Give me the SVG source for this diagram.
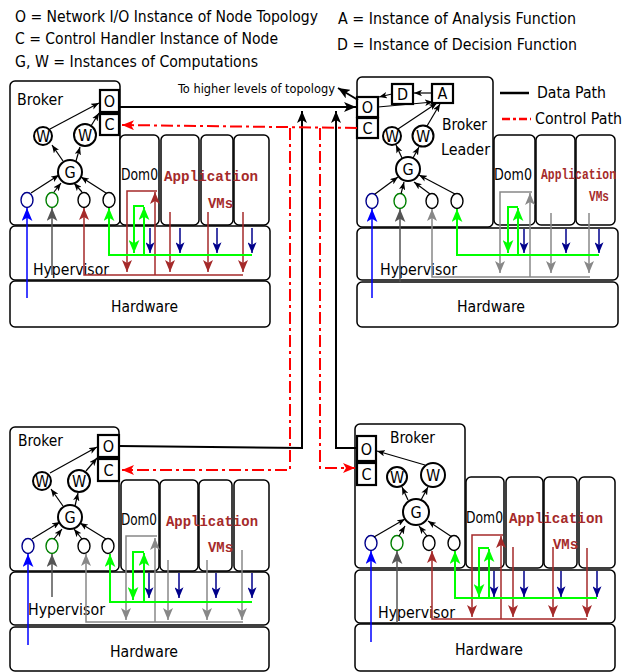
<svg xmlns="http://www.w3.org/2000/svg" width="639" height="672" viewBox="0 0 639 672">
<style>
.box{fill:#fff;stroke:#000;stroke-width:1.5}
.io{fill:#fff;stroke:#000;stroke-width:2.2}
.cir{fill:#fff;stroke:#000;stroke-width:2}
.sc{fill:#fff;stroke-width:1.4}
.lbl{font-family:"DejaVu Sans Condensed","DejaVu Sans",sans-serif;font-stretch:condensed;font-size:16px;fill:#000}
.sm{font-size:13px}
.mid{text-anchor:middle}
.app{font-family:"Liberation Mono","Courier New",monospace;font-weight:bold;font-size:14px;fill:#a52a2a}
.ka{stroke:#000;stroke-width:1.2;fill:none;marker-end:url(#mk)}
.blue{stroke:#0000ff;stroke-width:1.5;fill:none;marker-end:url(#mb)}
.navy{stroke:#00008b;stroke-width:1.5;fill:none;marker-end:url(#mn)}
.lime{stroke:#00ff00;stroke-width:2;fill:none;marker-end:url(#ml)}
.brn{stroke:#a52a2a;stroke-width:1.5;fill:none;marker-end:url(#mr)}
.gry{stroke:#888;stroke-width:1.5;fill:none;marker-end:url(#mg)}
.dgr{stroke:#555;stroke-width:1.5;fill:none;marker-end:url(#md)}
.data{stroke:#000;stroke-width:2;fill:none;marker-end:url(#mkb)}
.ctl{stroke:#f00;stroke-width:2;fill:none;stroke-dasharray:12,4,3,4;marker-end:url(#mred)}
.nm{fill:none}
</style>
<defs>
<marker id="mk" viewBox="0 0 10 8" refX="10" refY="4" markerWidth="8" markerHeight="6.4" markerUnits="userSpaceOnUse" orient="auto"><path d="M0,0 L10,4 L0,8 L2.5,4 z" fill="#000"/></marker>
<marker id="mkb" viewBox="0 0 12 10" refX="12" refY="5" markerWidth="12" markerHeight="10" markerUnits="userSpaceOnUse" orient="auto"><path d="M0,0 L12,5 L0,10 L3,5 z" fill="#000"/></marker>
<marker id="mred" viewBox="0 0 12 10" refX="12" refY="5" markerWidth="12" markerHeight="10" markerUnits="userSpaceOnUse" orient="auto"><path d="M0,0 L12,5 L0,10 L3,5 z" fill="#f00"/></marker>
<marker id="mb" viewBox="0 0 12 10" refX="12" refY="5" markerWidth="13" markerHeight="11" markerUnits="userSpaceOnUse" orient="auto"><path d="M0,0 L12,5 L0,10 L3,5 z" fill="#0000ff"/></marker>
<marker id="ml" viewBox="0 0 12 10" refX="12" refY="5" markerWidth="13" markerHeight="11" markerUnits="userSpaceOnUse" orient="auto"><path d="M0,0 L12,5 L0,10 L3,5 z" fill="#00ff00"/></marker>
<marker id="mr" viewBox="0 0 12 10" refX="12" refY="5" markerWidth="12" markerHeight="10" markerUnits="userSpaceOnUse" orient="auto"><path d="M0,0 L12,5 L0,10 L3,5 z" fill="#a52a2a"/></marker>
<marker id="mg" viewBox="0 0 12 10" refX="12" refY="5" markerWidth="12" markerHeight="10" markerUnits="userSpaceOnUse" orient="auto"><path d="M0,0 L12,5 L0,10 L3,5 z" fill="#888"/></marker>
<marker id="md" viewBox="0 0 12 10" refX="12" refY="5" markerWidth="13" markerHeight="11" markerUnits="userSpaceOnUse" orient="auto"><path d="M0,0 L12,5 L0,10 L3,5 z" fill="#555"/></marker>
<marker id="mn" viewBox="0 0 12 10" refX="12" refY="5" markerWidth="11" markerHeight="9" markerUnits="userSpaceOnUse" orient="auto"><path d="M0,0 L12,5 L0,10 L3,5 z" fill="#00008b"/></marker>
</defs>
<rect width="639" height="672" fill="#fff"/>

<g id="legend">
<text class="lbl" x="15" y="22" textLength="303" lengthAdjust="spacingAndGlyphs">O = Network I/O Instance of Node Topology</text>
<text class="lbl" x="15" y="44" textLength="263" lengthAdjust="spacingAndGlyphs">C = Control Handler Instance of Node</text>
<text class="lbl" x="15" y="67" textLength="243" lengthAdjust="spacingAndGlyphs">G, W = Instances of Computations</text>
<text class="lbl" x="338" y="24" textLength="238" lengthAdjust="spacingAndGlyphs">A = Instance of Analysis Function</text>
<text class="lbl" x="337" y="50" textLength="240" lengthAdjust="spacingAndGlyphs">D = Instance of Decision Function</text>
<line x1="500" y1="93" x2="529" y2="93" stroke="#000" stroke-width="2.5"/>
<text class="lbl" x="537" y="98" textLength="69" lengthAdjust="spacingAndGlyphs">Data Path</text>
<line x1="502" y1="119" x2="531" y2="119" stroke="#f00" stroke-width="2.5" stroke-dasharray="8,3,3,3"/>
<text class="lbl" x="535" y="124" textLength="87" lengthAdjust="spacingAndGlyphs">Control Path</text>
<text class="lbl sm" x="178" y="93" textLength="157" lengthAdjust="spacingAndGlyphs">To higher levels of topology</text>
</g>

<!-- Top-left broker -->
<g id="node-tl">
<rect class="box" x="10" y="226" width="260" height="54" rx="5"/>
<rect class="box" x="10" y="281" width="260" height="46" rx="5"/>
<rect class="box" x="10" y="81" width="110" height="144" rx="5"/>
<rect class="box" x="120" y="135" width="39" height="90" rx="5"/>
<rect class="box" x="161" y="135" width="38" height="90" rx="5"/>
<rect class="box" x="201" y="135" width="32" height="90" rx="5"/>
<rect class="box" x="234" y="135" width="35" height="90" rx="5"/>
<text class="lbl" x="17" y="105" textLength="46" lengthAdjust="spacingAndGlyphs">Broker</text>
<rect class="io" x="100" y="90" width="19" height="22"/>
<rect class="io" x="100" y="114" width="19" height="21"/>
<text class="lbl mid" x="109.5" y="107">O</text>
<text class="lbl mid" x="109.5" y="130">C</text>
<circle class="cir" cx="43" cy="136" r="9"/>
<circle class="cir" cx="85" cy="135" r="11"/>
<circle class="cir" cx="70" cy="172" r="12"/>
<text class="lbl mid" x="43" y="141.5" font-size="14">W</text>
<text class="lbl mid" x="85" y="140.5" font-size="15">W</text>
<text class="lbl mid" x="70" y="178" font-size="16">G</text>
<ellipse class="sc" cx="27" cy="200" rx="6" ry="7.5" stroke="#00008b"/>
<ellipse class="sc" cx="52" cy="200" rx="6" ry="7.5" stroke="#008000"/>
<ellipse class="sc" cx="84" cy="200" rx="6" ry="7.5" stroke="#000"/>
<ellipse class="sc" cx="109" cy="200" rx="6" ry="7.5" stroke="#000"/>
<text class="lbl" x="121" y="180" textLength="37" lengthAdjust="spacingAndGlyphs">Dom0</text>
<text class="app" x="164" y="181" textLength="94" lengthAdjust="spacingAndGlyphs">Application</text>
<text class="app" x="208" y="208" textLength="25" lengthAdjust="spacingAndGlyphs">VMs</text>
<text class="lbl" x="33" y="275" textLength="76" lengthAdjust="spacingAndGlyphs">Hypervisor</text>
<text class="lbl" x="111" y="312" textLength="67" lengthAdjust="spacingAndGlyphs">Hardware</text>
</g>

<!-- Top-right broker leader -->
<g id="node-tr">
<rect class="box" x="357" y="228" width="261" height="52" rx="5"/>
<rect class="box" x="357" y="282" width="261" height="45" rx="5"/>
<rect class="box" x="357" y="77" width="136" height="150" rx="5"/>
<rect class="box" x="494" y="135" width="41" height="90" rx="5"/>
<rect class="box" x="536" y="135" width="39" height="90" rx="5"/>
<rect class="box" x="576" y="135" width="39" height="90" rx="5"/>
<rect class="io" x="357" y="97" width="21" height="20"/>
<rect class="io" x="357" y="118" width="21" height="20"/>
<rect class="io" x="392" y="84" width="21" height="20"/>
<rect class="io" x="432" y="84" width="21" height="19"/>
<text class="lbl mid" x="367.5" y="113">O</text>
<text class="lbl mid" x="367.5" y="134">C</text>
<text class="lbl mid" x="402.5" y="100">D</text>
<text class="lbl mid" x="442.5" y="99">A</text>
<text class="lbl" x="442" y="130" textLength="45" lengthAdjust="spacingAndGlyphs">Broker</text>
<text class="lbl" x="441" y="155" textLength="49" lengthAdjust="spacingAndGlyphs">Leader</text>
<circle class="cir" cx="392" cy="136" r="9"/>
<circle class="cir" cx="423" cy="136" r="10.5"/>
<circle class="cir" cx="408" cy="169" r="12"/>
<text class="lbl mid" x="392" y="141.5" font-size="14">W</text>
<text class="lbl mid" x="423" y="141.5" font-size="15">W</text>
<text class="lbl mid" x="408" y="175" font-size="16">G</text>
<ellipse class="sc" cx="372" cy="201" rx="6" ry="7.5" stroke="#00008b"/>
<ellipse class="sc" cx="400" cy="201" rx="6" ry="7.5" stroke="#008000"/>
<ellipse class="sc" cx="432" cy="201" rx="6" ry="7.5" stroke="#000"/>
<ellipse class="sc" cx="457" cy="201" rx="6" ry="7.5" stroke="#000"/>
<text class="lbl" x="494" y="180" textLength="38" lengthAdjust="spacingAndGlyphs">Dom0</text>
<text class="app" x="541" y="179" font-size="11.5" textLength="75" lengthAdjust="spacingAndGlyphs">Application</text>
<text class="app" x="589" y="201" font-size="11.5" textLength="20" lengthAdjust="spacingAndGlyphs">VMs</text>
<text class="lbl" x="380" y="275" textLength="77" lengthAdjust="spacingAndGlyphs">Hypervisor</text>
<text class="lbl" x="457" y="312" textLength="68" lengthAdjust="spacingAndGlyphs">Hardware</text>
</g>

<!-- Bottom-left broker -->
<g id="node-bl">
<rect class="box" x="10" y="572" width="259" height="53" rx="5"/>
<rect class="box" x="10" y="627" width="259" height="44" rx="5"/>
<rect class="box" x="10" y="427" width="109" height="144" rx="5"/>
<rect class="box" x="121" y="480" width="38" height="91" rx="5"/>
<rect class="box" x="160" y="480" width="38" height="91" rx="5"/>
<rect class="box" x="199" y="480" width="33" height="91" rx="5"/>
<rect class="box" x="234" y="480" width="35" height="91" rx="5"/>
<text class="lbl" x="18" y="446" textLength="45" lengthAdjust="spacingAndGlyphs">Broker</text>
<rect class="io" x="98" y="435" width="21" height="22"/>
<rect class="io" x="98" y="459" width="21" height="22"/>
<text class="lbl mid" x="108.5" y="452">O</text>
<text class="lbl mid" x="108.5" y="476">C</text>
<circle class="cir" cx="42" cy="481" r="9"/>
<circle class="cir" cx="79" cy="481" r="11"/>
<circle class="cir" cx="70" cy="517" r="12"/>
<text class="lbl mid" x="42" y="486.5" font-size="14">W</text>
<text class="lbl mid" x="79" y="486.5" font-size="15">W</text>
<text class="lbl mid" x="70" y="523" font-size="16">G</text>
<ellipse class="sc" cx="28" cy="546" rx="6" ry="7.5" stroke="#00008b"/>
<ellipse class="sc" cx="52" cy="546" rx="6" ry="7.5" stroke="#008000"/>
<ellipse class="sc" cx="84" cy="546" rx="6" ry="7.5" stroke="#000"/>
<ellipse class="sc" cx="108" cy="546" rx="6" ry="7.5" stroke="#000"/>
<text class="lbl" x="121" y="525" textLength="36" lengthAdjust="spacingAndGlyphs">Dom0</text>
<text class="app" x="166" y="526" textLength="92" lengthAdjust="spacingAndGlyphs">Application</text>
<text class="app" x="208" y="552" textLength="25" lengthAdjust="spacingAndGlyphs">VMs</text>
<text class="lbl" x="28" y="615" textLength="77" lengthAdjust="spacingAndGlyphs">Hypervisor</text>
<text class="lbl" x="110" y="657" textLength="68" lengthAdjust="spacingAndGlyphs">Hardware</text>
</g>

<!-- Bottom-right broker -->
<g id="node-br">
<rect class="box" x="355" y="570" width="260" height="53" rx="5"/>
<rect class="box" x="355" y="624" width="260" height="47" rx="5"/>
<rect class="box" x="355" y="424" width="110" height="144" rx="5"/>
<rect class="box" x="466" y="477" width="38" height="91" rx="5"/>
<rect class="box" x="506" y="477" width="37" height="91" rx="5"/>
<rect class="box" x="544" y="477" width="33" height="91" rx="5"/>
<rect class="box" x="579" y="477" width="36" height="91" rx="5"/>
<text class="lbl" x="390" y="443" textLength="45" lengthAdjust="spacingAndGlyphs">Broker</text>
<rect class="io" x="357" y="436" width="19" height="25"/>
<rect class="io" x="357" y="463" width="19" height="22"/>
<text class="lbl mid" x="366.5" y="455">O</text>
<text class="lbl mid" x="366.5" y="480">C</text>
<circle class="cir" cx="397" cy="477" r="10"/>
<circle class="cir" cx="433" cy="475" r="12"/>
<circle class="cir" cx="416" cy="512" r="13"/>
<text class="lbl mid" x="397" y="482.5" font-size="14">W</text>
<text class="lbl mid" x="433" y="481" font-size="16">W</text>
<text class="lbl mid" x="416" y="518" font-size="17">G</text>
<ellipse class="sc" cx="371" cy="543" rx="6" ry="7.5" stroke="#00008b"/>
<ellipse class="sc" cx="397" cy="543" rx="6" ry="7.5" stroke="#008000"/>
<ellipse class="sc" cx="429" cy="543" rx="6" ry="7.5" stroke="#000"/>
<ellipse class="sc" cx="454" cy="543" rx="6" ry="7.5" stroke="#000"/>
<text class="lbl" x="466" y="523" textLength="37" lengthAdjust="spacingAndGlyphs">Dom0</text>
<text class="app" x="509" y="523" textLength="94" lengthAdjust="spacingAndGlyphs">Application</text>
<text class="app" x="553" y="549" textLength="25" lengthAdjust="spacingAndGlyphs">VMs</text>
<text class="lbl" x="378" y="618" textLength="77" lengthAdjust="spacingAndGlyphs">Hypervisor</text>
<text class="lbl" x="455" y="655" textLength="68" lengthAdjust="spacingAndGlyphs">Hardware</text>
</g>

<g id="connectors">
<!-- internal computation arrows TL -->
<path class="ka" d="M50,129 L99,103"/>
<path class="ka" d="M91,126 L99,113"/>
<path class="ka" d="M63,161 L52,145"/>
<path class="ka" d="M76,161 L80,147"/>
<path class="ka" d="M31,193 L59,175"/>
<path class="ka" d="M54,192 L61,183"/>
<path class="ka" d="M82,192 L74,183"/>
<path class="ka" d="M106,193 L81,177"/>
<!-- TR -->
<path class="ka" d="M398,129 L437,103"/>
<path class="ka" d="M427,126 L440,104"/>
<path class="ka" d="M378,107 L433,102"/>
<path class="ka" d="M432,93 L414,93"/>
<path class="ka" d="M392,94 L379,97"/>
<path class="ka" d="M402,158 L396,145"/>
<path class="ka" d="M413,158 L419,147"/>
<path class="ka" d="M375,194 L398,177"/>
<path class="ka" d="M401,194 L404,182"/>
<path class="ka" d="M430,194 L414,182"/>
<path class="ka" d="M455,194 L419,175"/>
<!-- BL -->
<path class="ka" d="M50,473 L97,447"/>
<path class="ka" d="M86,471 L97,458"/>
<path class="ka" d="M63,506 L51,489"/>
<path class="ka" d="M75,506 L78,493"/>
<path class="ka" d="M32,539 L60,522"/>
<path class="ka" d="M54,539 L62,529"/>
<path class="ka" d="M82,539 L74,529"/>
<path class="ka" d="M106,539 L80,523"/>
<!-- BR -->
<path class="ka" d="M425,465 L377,451"/>
<path class="ka" d="M408,500 L402,487"/>
<path class="ka" d="M421,500 L428,487"/>
<path class="ka" d="M374,537 L405,519"/>
<path class="ka" d="M399,536 L405,526"/>
<path class="ka" d="M427,536 L419,526"/>
<path class="ka" d="M452,537 L428,521"/>

<!-- TL platform paths (brown) -->
<path class="blue" d="M27,298 V208"/>
<path class="dgr" d="M52,275 V208"/>
<path class="brn" d="M243,275 H84 V208"/>
<path class="brn" d="M155,275 V192"/>
<path class="brn" d="M157,191 H127 V272"/>
<path class="brn" d="M170,212 V272"/>
<path class="brn" d="M208,212 V272"/>
<path class="brn" d="M243,212 V272"/>
<path class="lime" d="M252,255 H109 V208"/>
<path class="lime" d="M144,255 V207"/>
<path class="lime" d="M144,206 H134 V253"/>
<path class="navy" d="M150,228 V253"/>
<path class="navy" d="M180,228 V253"/>
<path class="navy" d="M217,228 V253"/>
<path class="navy" d="M252,228 V253"/>

<!-- TR platform paths (gray) -->
<path class="blue" d="M372,298 V209"/>
<path class="dgr" d="M400,282 V209"/>
<path class="gry" d="M590,277 H432 V209"/>
<path class="gry" d="M530,277 V193"/>
<path class="gry" d="M532,192 H500 V273"/>
<path class="gry" d="M551,213 V273"/>
<path class="gry" d="M589,213 V273"/>
<path class="lime" d="M599,255 H457 V209"/>
<path class="lime" d="M518,255 V208"/>
<path class="lime" d="M518,207 H508 V253"/>
<path class="navy" d="M524,229 V253"/>
<path class="navy" d="M566,229 V253"/>
<path class="navy" d="M599,229 V253"/>

<!-- BL platform paths (gray) -->
<path class="blue" d="M28,645 V554"/>
<path class="dgr" d="M52,597 V554"/>
<path class="gry" d="M243,622 H86 V554"/>
<path class="gry" d="M155,622 V538"/>
<path class="gry" d="M157,536 H126 V620"/>
<path class="gry" d="M168,560 V620"/>
<path class="gry" d="M207,560 V620"/>
<path class="gry" d="M242,550 V620"/>
<path class="lime" d="M252,602 H110 V554"/>
<path class="lime" d="M144,602 V553"/>
<path class="lime" d="M144,552 H133 V600"/>
<path class="navy" d="M149,573 V598"/>
<path class="navy" d="M179,573 V598"/>
<path class="navy" d="M216,573 V598"/>
<path class="navy" d="M252,573 V598"/>

<!-- BR platform paths (brown) -->
<path class="blue" d="M371,642 V551"/>
<path class="dgr" d="M397,623 V551"/>
<path class="brn" d="M587,619 H432 V551"/>
<path class="brn" d="M501,619 V536"/>
<path class="brn" d="M503,535 H472 V617"/>
<path class="brn" d="M513,547 V617"/>
<path class="brn" d="M553,547 V617"/>
<path class="brn" d="M587,548 V617"/>
<path class="lime" d="M597,598 H455 V551"/>
<path class="lime" d="M489,598 V549"/>
<path class="lime" d="M489,548 H479 V597"/>
<path class="navy" d="M494,571 V597"/>
<path class="navy" d="M524,571 V597"/>
<path class="navy" d="M561,571 V597"/>
<path class="navy" d="M597,571 V597"/>

<!-- inter-broker data paths -->
<path class="data" d="M119,107 H356"/>
<path class="data" d="M119,446 L302,448 V111"/>
<path class="data" d="M357,448 H336 V111"/>
<path class="data" d="M358,100 L338,88"/>
<!-- control paths -->
<path class="ctl" d="M357,128 L122,125"/>
<path class="ctl" d="M290,128 V470 H122"/>
<path class="ctl" d="M320,128 V468 H355"/>
</g>
</svg>
